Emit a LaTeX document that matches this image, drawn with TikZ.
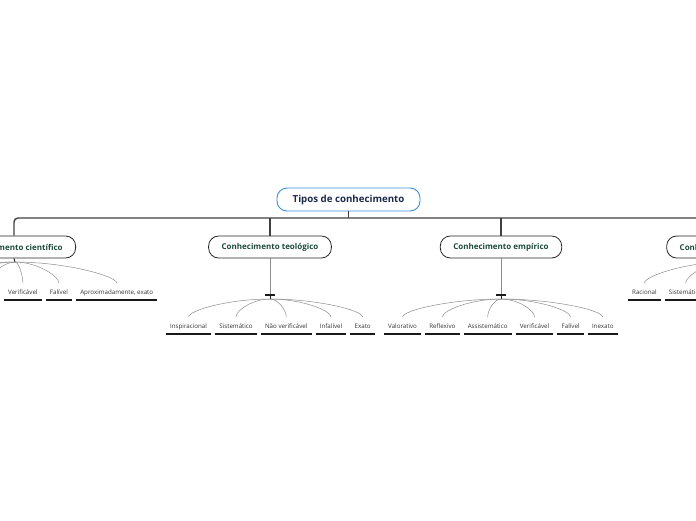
\documentclass[tikz,border=0pt]{standalone}
\usepackage{fontspec}
\setmainfont{Open Sans}
\usetikzlibrary{positioning,calc}

\definecolor{rootblue}{HTML}{3A8FDB}
\definecolor{rootink}{HTML}{1B2A4A}
\definecolor{topicink}{HTML}{1E4B3A}
\definecolor{leafink}{HTML}{333333}
\definecolor{twig}{HTML}{8C8C8C}

% one curved twig from a hub down onto the top of a leaf
\newcommand\sprout[2]{%
  \draw[twigline] (#1) .. controls ($(#1)!0.5!(#1 -| #2.north)$) and ($(#2.north)+(0,-9)$) .. ($(#2.north)+(0,-2)$);}
% the small T knot under a topic with a long stem
\newcommand\knot[2]{%
  \draw[stem] (#1.south) -- (#2);
  \draw[uline] ($(#2)+(-5,0)$) -- ($(#2)+(5,0)$);
  \draw[uline, line width=0.9pt] (#2) -- ++(0,4);}

\tikzset{
  root/.style={draw=rootblue, line width=0.9pt, rounded corners=10pt, fill=white,
    font=\bfseries\fontsize{9.7}{11}\selectfont, text=rootink,
    minimum width=143pt, minimum height=23pt},
  topic/.style={draw=black!85, line width=0.8pt, rounded corners=10pt, fill=white,
    font=\bfseries\fontsize{8}{10}\selectfont, text=topicink,
    minimum height=22pt, inner xsep=13pt},
  leaf/.style={font=\fontsize{6.2}{7}\selectfont, text=leafink, inner xsep=4pt,
    inner ysep=4pt, text height=5pt, text depth=1.5pt},
  uline/.style={line width=1.3pt, black!90},
  trunk/.style={line width=1.4pt, black!75},
  stem/.style={line width=0.6pt, twig},
  twigline/.style={line width=0.5pt, twig},
}

\begin{document}
\begin{tikzpicture}[x=1pt, y=-1pt]
    % the page is the 696 x 520 frame, the outer topics run off it
    \useasboundingbox (0,0) rectangle (696,520);
    \clip (0,0) rectangle (696,520);

    % root and the four topics
    \node[root] (root) at (348.5,199.5) {Tipos de conhecimento};
    \node[topic] (sci) at (14,247) {Conhecimento científico};
    \node[topic] (theo) at (270,247) {Conhecimento teológico};
    \node[topic] (emp) at (501,247) {Conhecimento empírico};
    \node[topic] (phil) at (728,247) {Conhecimento filosófico};

    % the bar that joins them
    \coordinate (bar) at (0,218);
    \draw[trunk] (root.south) -- (root.south |- bar);
    \draw[trunk, rounded corners=4pt] (sci.north) -- (sci.north |- bar)
        -- (phil.north |- bar) -- (phil.north);
    \foreach \t in {theo,emp}
        \draw[trunk] (\t.north) -- (\t.north |- bar);

    % leaves of the scientific topic
    \node[leaf, anchor=south west] (s4) at (4,300) {Verificável};
    \node[leaf, right=4pt of s4] (s5) {Falível};
    \node[leaf, right=4pt of s5] (s6) {Aproximadamente, exato};
    \node[leaf, left=4pt of s4] (s3) {Real};
    \node[leaf, left=4pt of s3] (s2) {Sistemático};
    \node[leaf, left=4pt of s2] (s1) {Contingente};

    % leaves of the theological topic
    \node[leaf, anchor=south west] (t1) at (166,334) {Inspiracional};
    \node[leaf, right=4pt of t1] (t2) {Sistemático};
    \node[leaf, right=4pt of t2] (t3) {Não verificável};
    \node[leaf, right=4pt of t3] (t4) {Infalível};
    \node[leaf, right=4pt of t4] (t5) {Exato};

    % leaves of the empirical topic
    \node[leaf, anchor=south west] (e1) at (384,334) {Valorativo};
    \node[leaf, right=4pt of e1] (e2) {Reflexivo};
    \node[leaf, right=4pt of e2] (e3) {Assistemático};
    \node[leaf, right=4pt of e3] (e4) {Verificável};
    \node[leaf, right=4pt of e4] (e5) {Falível};
    \node[leaf, right=4pt of e5] (e6) {Inexato};

    % leaves of the philosophical topic
    \node[leaf, anchor=south west] (p1) at (628,300) {Racional};
    \node[leaf, right=4pt of p1] (p2) {Sistemático};
    \node[leaf, right=4pt of p2] (p3) {Não verificável};
    \node[leaf, right=4pt of p3] (p4) {Infalível};
    \node[leaf, right=4pt of p4] (p5) {Exato};

    % underline every leaf
    \foreach \l in {s1,s2,s3,s4,s5,s6,t1,t2,t3,t4,t5,e1,e2,e3,e4,e5,e6,p1,p2,p3,p4,p5}
        \draw[uline] (\l.south west) -- (\l.south east);

    % hubs: short ones right under the box, long ones with a knot
    \coordinate (shub) at (15,262);
    \coordinate (phub) at (728,262);
    \draw[uline, line width=0.9pt] (sci.south) -- (shub);
    \draw[uline, line width=0.9pt] (phil.south) -- (phub);
    \coordinate (tknot) at (270,295);
    \coordinate (eknot) at (501,295);
    \knot{theo}{tknot}
    \knot{emp}{eknot}
    \coordinate (thub) at (270,299);
    \coordinate (ehub) at (501,299);

    % twigs
    \foreach \l in {s1,s2,s3,s4,s5,s6} {\sprout{shub}{\l}}
    \foreach \l in {t1,t2,t3,t4,t5} {\sprout{thub}{\l}}
    \foreach \l in {e1,e2,e3,e4,e5,e6} {\sprout{ehub}{\l}}
    \foreach \l in {p1,p2,p3,p4,p5} {\sprout{phub}{\l}}
\end{tikzpicture}
\end{document}
